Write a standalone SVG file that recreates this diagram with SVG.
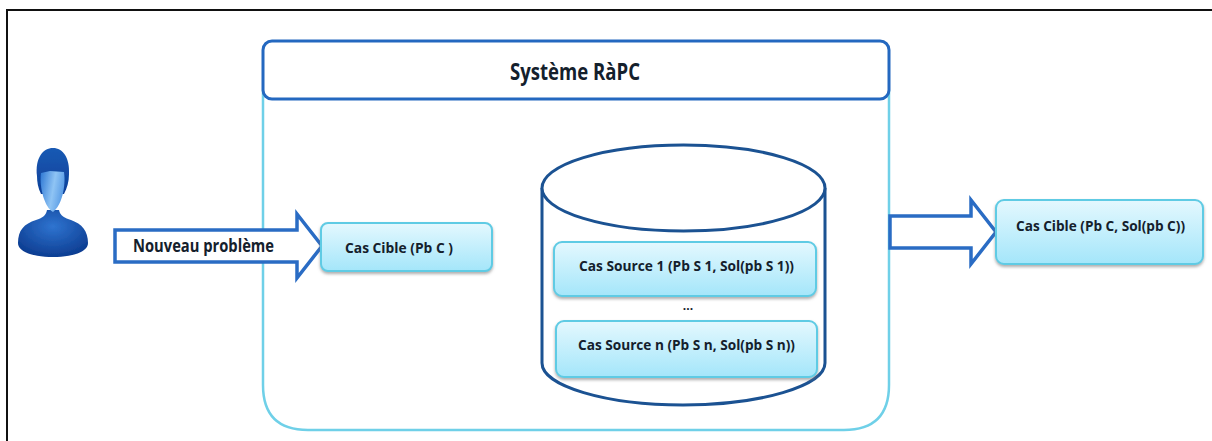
<svg xmlns="http://www.w3.org/2000/svg" width="1212" height="441" viewBox="0 0 1212 441">
<style>
text{font-family:"Open Sans","Liberation Sans",sans-serif;font-weight:700;fill:#14202c}
.box{fill:url(#boxGrad);stroke:#5fcbe4;stroke-width:2;filter:url(#shadow)}
.arrow{fill:#fff;stroke:#2a6cc4;stroke-width:3.500;stroke-linejoin:miter}
.cyl{fill:#fff;stroke:#1b5292;stroke-width:3}
.small{font-size:14px}
</style>
<defs>
<linearGradient id="boxGrad" x1="0" y1="0" x2="0" y2="1"><stop offset="0" stop-color="#e4f8fe"/><stop offset="1" stop-color="#a4e6fa"/></linearGradient>
<radialGradient id="bodyGrad" cx="0.5" cy="0.35" r="0.7"><stop offset="0" stop-color="#2f74d0"/><stop offset="1" stop-color="#0b3a8e"/></radialGradient>
<linearGradient id="hairGrad" x1="0" y1="0" x2="0" y2="1"><stop offset="0" stop-color="#1a5ab4"/><stop offset="1" stop-color="#0c3f98"/></linearGradient>
<linearGradient id="faceGrad" x1="0" y1="0" x2="1" y2="0.300"><stop offset="0" stop-color="#2f78d4"/><stop offset="0.6" stop-color="#8fc4f4"/><stop offset="1" stop-color="#5c9ee6"/></linearGradient>
<filter id="shadow" x="-5%" y="-10%" width="110%" height="125%"><feDropShadow dx="0" dy="2" stdDeviation="1.5" flood-color="#777" flood-opacity="0.6"/></filter>
<filter id="soft"><feGaussianBlur stdDeviation="0.6"/></filter>
</defs>
<g id="frame" fill="none" stroke="#111" stroke-width="2"><path d="M7 441V10H1212"/></g>
<g id="system">
<path d="M263 90V385Q263 430 308 430H844Q889 430 889 385V90" fill="#fff" stroke="#6fd0e8" stroke-width="2.500"/>
<rect x="263" y="41" width="626" height="58" rx="9" fill="#fff" stroke="#2468c0" stroke-width="3"/>
<text x="575" y="80" font-size="23" text-anchor="middle" textLength="130" lengthAdjust="spacingAndGlyphs">Système RàPC</text>
</g>
<g id="user" filter="url(#soft)">
<path d="M18 243C18 230 24 224 36 220C42 218 46 216 47 210H59C60 216 65 218 71 220C82 224 88 231 88 243C88 252 72 257 53 257C34 257 18 252 18 243Z" fill="url(#bodyGrad)"/>
<path d="M37 176C35 158 43 148 53 148C63 148 70 158 69 174C69 182 67 188 64 194L41 194C38 188 37 182 37 176Z" fill="url(#hairGrad)"/>
<path d="M41 173L50 171L64 172C66 186 62 205 53 212C45 208 39 188 41 173Z" fill="url(#faceGrad)"/>
</g>
<g id="database">
<path class="cyl" d="M542 188V363C542 386 606 405 683 405C760 405 825 386 825 363V188"/>
<ellipse class="cyl" cx="683.500" cy="188" rx="141.500" ry="43"/>
</g>
<g id="connectors">
<path class="arrow" d="M115 230H297V214L322 246L297 278V262H115Z"/>
<path class="arrow" d="M890 216H971V200L996 232L971 264V248H890Z"/>
</g>
<text x="133" y="252" font-size="17" textLength="141" lengthAdjust="spacingAndGlyphs">Nouveau problème</text>
<g id="cas-cible-in">
<rect class="box" x="321" y="223" width="171" height="48" rx="7"/>
<text class="small" x="345" y="253" textLength="108" lengthAdjust="spacingAndGlyphs">Cas Cible (Pb C )</text>
</g>
<g id="cas-source-1">
<rect class="box" x="554" y="242" width="262" height="54" rx="8"/>
<text class="small" x="579" y="271" textLength="215" lengthAdjust="spacingAndGlyphs">Cas Source 1 (Pb S 1, Sol(pb S 1))</text>
</g>
<text x="688" y="310" font-size="12" text-anchor="middle">...</text>
<g id="cas-source-n">
<rect class="box" x="556" y="321" width="261" height="56" rx="8"/>
<text class="small" x="578" y="350" textLength="217" lengthAdjust="spacingAndGlyphs">Cas Source n (Pb S n, Sol(pb S n))</text>
</g>
<g id="cas-cible-out">
<rect class="box" x="996" y="200" width="207" height="64" rx="8"/>
<text class="small" x="1016" y="231" textLength="169" lengthAdjust="spacingAndGlyphs">Cas Cible (Pb C, Sol(pb C))</text>
</g>
</svg>
